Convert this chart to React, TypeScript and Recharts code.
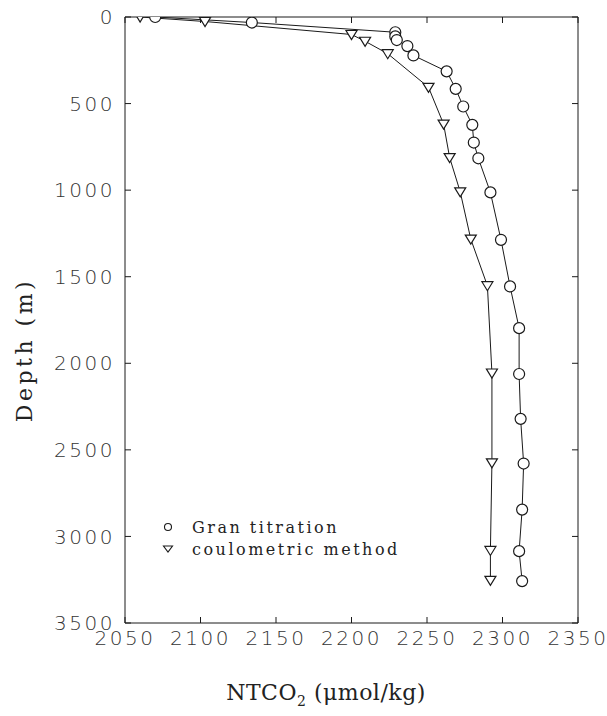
import React from 'react';
import { LineChart, Line, XAxis, YAxis, Legend } from 'recharts';

// Gran titration (circles)
const granCo2 = [2070, 2134, 2229, 2229, 2230, 2237, 2241, 2263, 2269, 2274, 2280, 2281, 2284, 2292, 2299, 2305, 2311, 2311, 2312, 2314, 2313, 2311, 2313];
const granDepth = [0, 32, 88, 112, 133, 168, 222, 314, 415, 517, 623, 725, 816, 1013, 1287, 1556, 1797, 2062, 2321, 2579, 2845, 3085, 3258];

// coulometric method (triangles)
const coulCo2 = [2060, 2103, 2200, 2209, 2224, 2251, 2261, 2265, 2272, 2279, 2290, 2293, 2293, 2292, 2292];
const coulDepth = [0, 26, 101, 140, 212, 406, 619, 812, 1010, 1283, 1552, 2056, 2575, 3081, 3254];

const xTicks = [2050, 2100, 2150, 2200, 2250, 2300, 2350];
const yTicks = [0, 500, 1000, 1500, 2000, 2500, 3000, 3500];
const seriesNames = ['Gran titration', 'coulometric method'];

const granData = granCo2.map((x, i) => ({ x, depth: granDepth[i] }));
const coulData = coulCo2.map((x, i) => ({ x, depth: coulDepth[i] }));

const INK = '#1a1a1a';
const tickFont = { fontFamily: '"DejaVu Sans", sans-serif', fontSize: 20, fontWeight: 200, letterSpacing: 2.5, fill: '#333' };
const serif = '"DejaVu Serif", serif';

const CircleDot = (props: any) => {
  const { cx, cy, index } = props;
  if (cx == null || cy == null) return null;
  return <circle key={`c-${index}`} cx={cx} cy={cy} r={5.5} fill="#fff" stroke={INK} strokeWidth={1.2} />;
};

const TriDot = (props: any) => {
  const { cx, cy, index } = props;
  if (cx == null || cy == null) return null;
  const pts = `${cx - 5.5},${cy - 4} ${cx + 5.5},${cy - 4} ${cx},${cy + 5}`;
  return <polygon key={`t-${index}`} points={pts} fill="#fff" stroke={INK} strokeWidth={1.2} />;
};

const LegendBox = () => (
  <div style={{ fontFamily: serif, fontSize: 16, letterSpacing: 2.5, color: '#222' }}>
    {seriesNames.map((name, i) => (
      <div key={name} style={{ display: 'flex', alignItems: 'center', height: 22 }}>
        <svg width={16} height={14} style={{ marginRight: 16 }}>
          {i === 0 ? (
            <circle cx={8} cy={7} r={3.5} fill="#fff" stroke={INK} strokeWidth={1.1} />
          ) : (
            <polygon points="3.5,4 12.5,4 8,10" fill="#fff" stroke={INK} strokeWidth={1.1} />
          )}
        </svg>
        <span>{name}</span>
      </div>
    ))}
  </div>
);

export default function App() {
  return (
    <div style={{ position: 'absolute', left: 0, top: 0, background: '#fff' }}>
      <LineChart width={607} height={716} margin={{ top: 16, right: 28, bottom: 0, left: 0 }}>
        <XAxis
          xAxisId="bottom"
          type="number"
          dataKey="x"
          domain={[2050, 2350]}
          ticks={xTicks}
          height={93}
          stroke={INK}
          tickSize={-6}
          tickMargin={14}
          tick={tickFont}
          allowDataOverflow
          label={{
            content: () => (
              <text x={326} y={700} textAnchor="middle" fontFamily={serif} fontSize={22} letterSpacing={0.5} fill="#222">
                NTCO<tspan fontSize={14} dy={6}>2</tspan>
                <tspan dy={-6}> (μmol/kg)</tspan>
              </text>
            ),
          }}
        />
        <XAxis
          xAxisId="top"
          orientation="top"
          type="number"
          dataKey="x"
          domain={[2050, 2350]}
          ticks={xTicks}
          height={1}
          stroke={INK}
          tickSize={-6}
          tickFormatter={() => ''}
          allowDataOverflow
        />
        <YAxis
          yAxisId="left"
          type="number"
          dataKey="depth"
          domain={[0, 3500]}
          ticks={yTicks}
          reversed
          width={125}
          stroke={INK}
          tickSize={-6}
          tickMargin={16}
          tick={tickFont}
          allowDataOverflow
          label={{
            content: () => (
              <text
                x={32}
                y={350}
                transform="rotate(-90 32 350)"
                textAnchor="middle"
                fontFamily={serif}
                fontSize={22}
                letterSpacing={3.5}
                fill="#222"
              >
                Depth (m)
              </text>
            ),
          }}
        />
        <YAxis
          yAxisId="right"
          orientation="right"
          type="number"
          dataKey="depth"
          domain={[0, 3500]}
          ticks={yTicks}
          reversed
          width={1}
          stroke={INK}
          tickSize={-6}
          tickFormatter={() => ''}
          allowDataOverflow
        />
        <Legend
          layout="horizontal"
          verticalAlign="middle"
          content={<LegendBox />}
          wrapperStyle={{ position: 'absolute', left: 160, top: 516, width: 'auto' }}
        />
        <Line
          data={granData}
          xAxisId="bottom"
          yAxisId="left"
          dataKey="depth"
          name={seriesNames[0]}
          stroke={INK}
          strokeWidth={1}
          dot={CircleDot}
          isAnimationActive={false}
        />
        <Line
          data={coulData}
          xAxisId="top"
          yAxisId="right"
          dataKey="depth"
          name={seriesNames[1]}
          stroke={INK}
          strokeWidth={1}
          dot={TriDot}
          isAnimationActive={false}
        />
      </LineChart>
    </div>
  );
}
